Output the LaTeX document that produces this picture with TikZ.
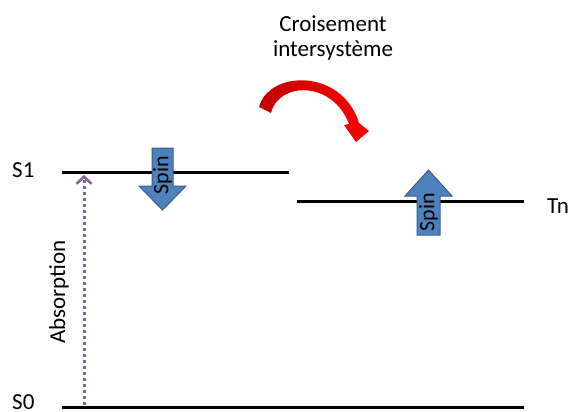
\documentclass[tikz,border=0pt]{standalone}
\usepackage{fontspec}
\setmainfont{Carlito}
\usetikzlibrary{arrows.meta}
\definecolor{spinfill}{HTML}{4F81BD}
\definecolor{spinedge}{HTML}{385D8A}
\definecolor{abscol}{HTML}{8064A2}
\definecolor{darkred}{HTML}{C00000}
\begin{document}
\begin{tikzpicture}[x=1pt,y=-1pt,
  level/.style={line width=3pt,black},
  lbl/.style={font=\fontsize{23}{25}\selectfont,inner sep=0pt},
  spinarrow/.style={fill=spinfill,draw=spinedge,line width=1pt,line join=miter},
  spintxt/.style={font=\fontsize{22}{24}\selectfont,inner sep=0pt,rotate=90},
  absarrow/.style={abscol,line width=3pt,dash pattern=on 3pt off 3pt,
     -{Straight Barb[length=7pt,width=15pt,line width=2.6pt]}}]
\useasboundingbox (0,0) rectangle (568,412);
% levels
\coordinate (s1a) at (62,172);
\coordinate (s1b) at (289,172);
\coordinate (tna) at (297,201);
\coordinate (tnb) at (524,201);
\coordinate (s0a) at (62,407);
\coordinate (s0b) at (524,407);
\draw[level] (s1a) -- (s1b);
\draw[level] (tna) -- (tnb);
\draw[level] (s0a) -- (s0b);
% labels
\node[lbl,anchor=base west] (S1) at (12,177) {S1};
\node[lbl,anchor=base west] (S0) at (12,409) {S0};
\node[lbl,anchor=base west] (Tn) at (547,213) {Tn};
% absorption
\coordinate (ab0) at (84,405);
\coordinate (ab1) at (84,175);
\draw[absarrow] (ab0) -- (ab1);
\node[lbl,rotate=90] (abs) at (59,292) {Absorption};
% spin down arrow
\draw[spinarrow] (152,148) -- (173,148) -- (173,186) -- (186,186) -- (162.5,210)
  -- (139,186) -- (152,186) -- cycle;
\node[spintxt] (spin1) at (162.5,175) {Spin};
% spin up arrow
\draw[spinarrow] (417,235) -- (440,235) -- (440,196) -- (452,196) -- (428.5,170)
  -- (405,196) -- (417,196) -- cycle;
\node[spintxt] (spin2) at (428.5,212) {Spin};
% red curved arrow
\path[left color=darkred,right color=red,draw=none]
  (259,107) .. controls (269,70) and (342,68) .. (359,123)
  -- (369,131) -- (356,142) -- (344,125) -- (349,124)
  .. controls (333,81) and (279,81) .. (271,113) -- cycle;
% title
\node[lbl,anchor=base] (t1) at (333,32) {Croisement};
\node[lbl,anchor=base] (t2) at (333,57) {intersystème};
\end{tikzpicture}
\end{document}
